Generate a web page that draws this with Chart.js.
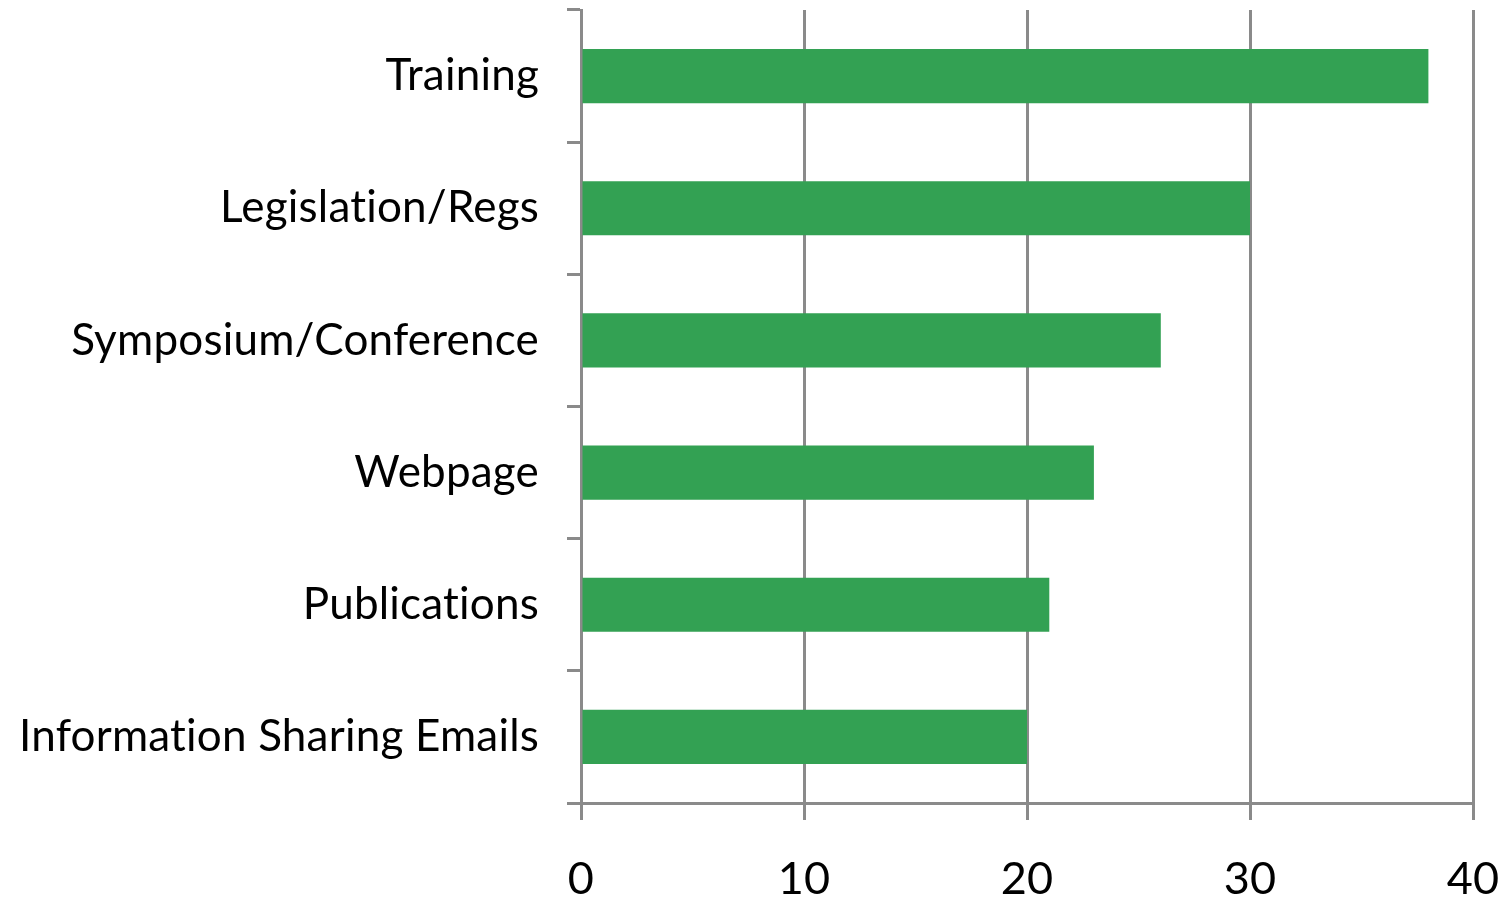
<!DOCTYPE html>
<html>
<head>
<meta charset="utf-8">
<script src="https://cdn.jsdelivr.net/npm/chart.js@4"></script>
<style>
  html, body { margin: 0; padding: 0; background: #fff; }
  #wrap { width: 1505px; height: 901px; }
</style>
</head>
<body>
<div id="wrap"><canvas id="chart" width="1505" height="901"></canvas></div>
<script>
const categories = [
  "Training",
  "Legislation/Regs",
  "Symposium/Conference",
  "Webpage",
  "Publications",
  "Information Sharing Emails"
];
const counts = [38, 30, 26, 23, 21, 20];
const xTicks = [0, 10, 20, 30, 40];

const gridGrey = "#8a8a8a";
const font = "Lato, 'Open Sans', sans-serif";

// a little letter spacing keeps Lato from drawing "ti" as a ligature
const noLigatures = {
  id: "noLigatures",
  beforeLayout(chart) { chart.ctx.letterSpacing = "0.2px"; },
  beforeDraw(chart) { chart.ctx.letterSpacing = "0.2px"; }
};

const ctx = document.getElementById("chart").getContext("2d");
new Chart(ctx, {
  type: "bar",
  data: {
    labels: categories,
    datasets: [{
      data: counts,
      backgroundColor: "#33a153",
      borderWidth: 0,
      barPercentage: 0.41,
      categoryPercentage: 1
    }]
  },
  options: {
    indexAxis: "y",
    responsive: false,
    animation: false,
    devicePixelRatio: 1,
    layout: { padding: { top: 10, right: 32, left: 0, bottom: 0 } },
    plugins: { legend: { display: false }, tooltip: { enabled: false } },
    scales: {
      x: {
        min: xTicks[0],
        max: xTicks[xTicks.length - 1],
        afterBuildTicks: (axis) => { axis.ticks = xTicks.map(v => ({ value: v })); },
        afterFit: (axis) => { axis.height = 98; axis.paddingLeft = 0; axis.paddingRight = 0; },
        grid: { color: gridGrey, lineWidth: 3, tickLength: 17, drawOnChartArea: true },
        border: { color: gridGrey, width: 3 },
        ticks: { color: "#000", font: { family: font, size: 45 }, padding: 32 }
      },
      y: {
        afterFit: (axis) => { axis.width = 581; axis.paddingTop = 0; axis.paddingBottom = 0; },
        grid: { offset: true, drawOnChartArea: false, color: gridGrey, lineWidth: 3, tickLength: 14 },
        border: { color: gridGrey, width: 3 },
        ticks: { color: "#000", font: { family: font, size: 44 }, padding: 28 }
      }
    }
  },
  plugins: [noLigatures]
});
</script>
</body>
</html>
